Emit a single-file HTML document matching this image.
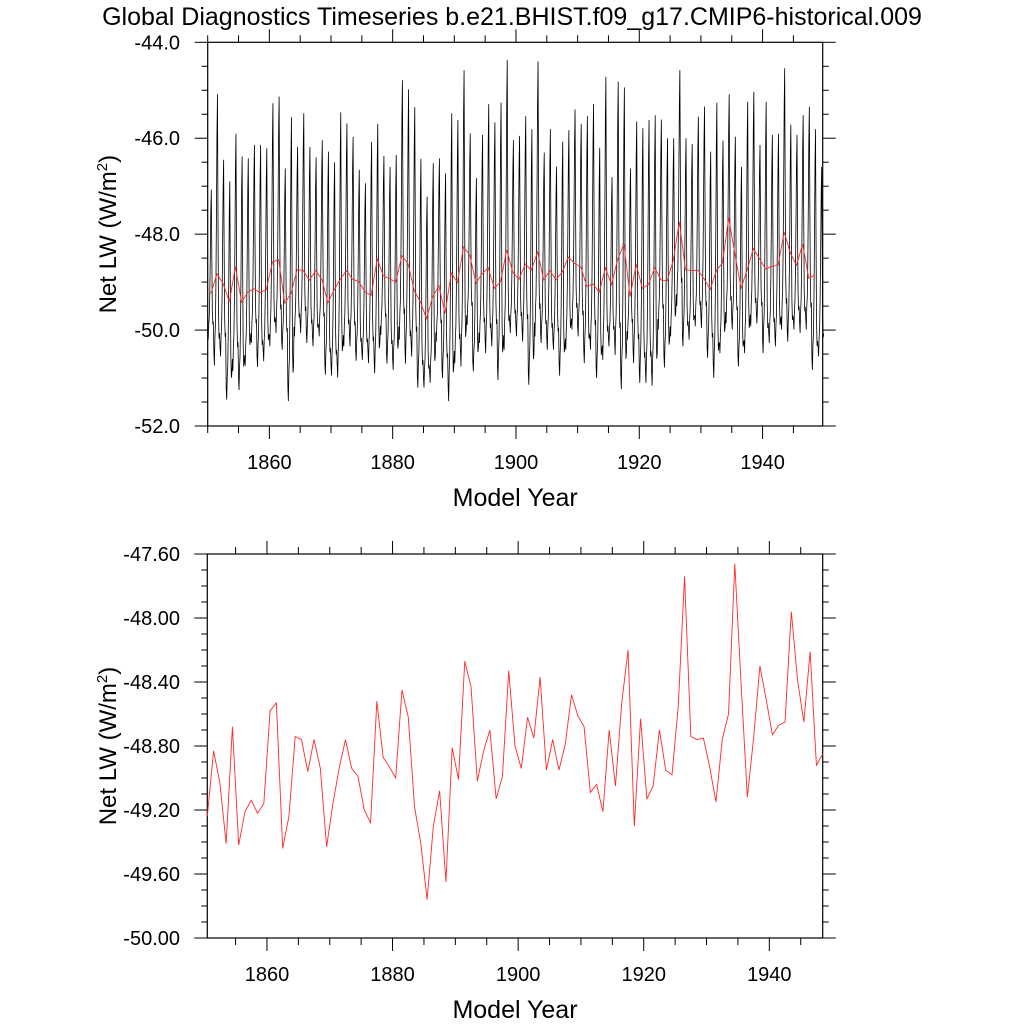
<!DOCTYPE html>
<html><head><meta charset="utf-8"><style>
html,body{margin:0;padding:0;background:#fff;}
svg{display:block;font-family:"Liberation Sans",Arial,sans-serif;}
</style></head><body>
<svg id="chart" width="1024" height="1024" viewBox="0 0 1024 1024" xmlns="http://www.w3.org/2000/svg">
<text x="512" y="25" font-size="25" text-anchor="middle">Global Diagnostics Timeseries b.e21.BHIST.f09_g17.CMIP6-historical.009</text>
<g id="topPanel"></g>
<g id="botPanel"></g>
</svg>
<script>
const years = Array.from({length:100},(_,i)=>1850+i);
const annualMean = [-49.24,-48.83,-49.03,-49.41,-48.68,-49.42,-49.21,-49.14,-49.22,-49.16,
-48.58,-48.53,-49.44,-49.24,-48.74,-48.76,-48.96,-48.76,-48.94,-49.43,
-49.16,-48.94,-48.76,-48.94,-48.99,-49.20,-49.28,-48.52,-48.87,-48.93,
-49.00,-48.45,-48.62,-49.18,-49.41,-49.76,-49.30,-49.08,-49.65,-48.81,
-49.01,-48.27,-48.43,-49.02,-48.83,-48.70,-49.13,-48.99,-48.33,-48.80,
-48.94,-48.62,-48.75,-48.37,-48.95,-48.76,-48.95,-48.79,-48.48,-48.61,
-48.68,-49.09,-49.04,-49.21,-48.70,-49.05,-48.53,-48.20,-49.30,-48.63,
-49.13,-49.05,-48.70,-48.95,-48.98,-48.55,-47.74,-48.74,-48.76,-48.75,
-48.93,-49.15,-48.76,-48.60,-47.66,-48.41,-49.12,-48.75,-48.30,-48.51,
-48.73,-48.67,-48.65,-47.96,-48.39,-48.65,-48.21,-48.92,-48.85];
const yearMax = [-47.07,-45.08,-46.45,-46.9,-45.91,-46.38,-46.42,-46.14,-46.14,-46.21,
-45.27,-45.13,-46.63,-45.56,-46.18,-45.48,-46.18,-46.4,-46.04,-46.28,
-46.5,-45.46,-45.69,-45.97,-46.66,-46.94,-46.08,-45.70,-46.37,-46.6,
-46.35,-44.79,-44.98,-45.35,-46.43,-47.22,-46.52,-46.42,-46.73,-45.48,
-45.62,-44.58,-45.90,-46.83,-45.93,-45.29,-45.67,-45.26,-44.37,-46.04,
-45.95,-45.54,-45.81,-44.40,-46.3,-45.81,-46.59,-46.07,-45.83,-45.40,
-45.70,-45.54,-45.29,-46.2,-44.72,-46.81,-44.82,-44.94,-46.63,-45.65,
-45.79,-45.62,-45.52,-45.61,-46.0,-46.00,-44.58,-46.00,-46.12,-45.55,
-45.34,-46.28,-45.26,-46.05,-45.08,-45.97,-46.60,-45.24,-45.03,-46.14,
-45.24,-45.93,-45.91,-44.54,-45.72,-45.93,-45.52,-45.34,-45.81,-46.60];
const yearMin = [-50.2,-50.74,-50.55,-51.45,-50.85,-51.25,-50.74,-50.27,-50.77,-50.65,
-50.34,-50.06,-50.41,-51.48,-50.13,-50.06,-50.27,-50.34,-50.13,-50.93,
-50.95,-50.99,-50.34,-50.34,-50.64,-50.62,-50.69,-50.90,-50.10,-50.70,
-50.83,-50.20,-50.70,-50.55,-51.2,-51.2,-51.1,-50.24,-51.0,-51.48,
-50.69,-50.76,-49.89,-50.86,-50.27,-50.48,-50.34,-51.04,-50.41,-50.06,
-50.13,-50.24,-51.14,-50.13,-50.27,-50.41,-50.41,-50.95,-50.41,-49.99,
-50.13,-50.69,-50.41,-51.0,-50.62,-50.34,-50.52,-51.23,-50.2,-50.69,
-51.1,-51.1,-51.16,-49.99,-50.78,-50.13,-49.5,-50.34,-50.2,-49.92,
-49.96,-50.58,-51.0,-50.48,-49.86,-49.99,-50.76,-50.48,-49.92,-49.86,
-50.48,-50.27,-50.34,-49.99,-50.24,-49.99,-50.06,-49.99,-50.83,-50.55];
const seasonShape = [0.05,0.0,0.1,0.15,0.3,0.55,0.85,1.0,0.55,0.2,0.1,0.12];
const topYTicks = [-52,-50,-48,-46,-44];
const botYTicks = [-50,-49.6,-49.2,-48.8,-48.4,-48.0,-47.6];
const xTicks = [1860,1880,1900,1920,1940];

const NS="http://www.w3.org/2000/svg";
function mk(parent,tag,attrs,text){const e=document.createElementNS(NS,tag);for(const k in attrs)e.setAttribute(k,attrs[k]);if(text!==undefined)e.textContent=text;parent.appendChild(e);return e;}

function drawPanel(g, cfg){
  const {L,R,T,B,x0,x1,y0,y1,yTicks,yMinorStep,yFmt,xLabelY} = cfg;
  const X = t => L + (t-x0)/(x1-x0)*(R-L);
  const Y = v => B - (v-y0)/(y1-y0)*(B-T);
  const frame = mk(g,'rect',{x:L,y:T,width:R-L,height:B-T,fill:'none',stroke:'#000','stroke-width':1.2});
  
  
  for(let yr=1850; yr<=1950; yr+=5){
    const x=X(yr); if(x<L-0.5||x>R+0.5) continue;
    const major = yr%20===0;
    const len = major?13:7;
    const tb = mk(g,'line',{x1:x,x2:x,y1:B,y2:B+len,stroke:'#000','stroke-width':1});
    
    
    const tt = mk(g,'line',{x1:x,x2:x,y1:T,y2:T-len,stroke:'#000','stroke-width':1});
    
    
  }
  xTicks.forEach(yr=>{
    const t = mk(g,'text',{x:X(yr),y:xLabelY,'font-size':20,'text-anchor':'middle'},String(yr));
    
    
  });
  const n = Math.round((y1-y0)/yMinorStep);
  for(let i=0;i<=n;i++){
    const v = y0+i*yMinorStep; const y=Y(v);
    const major = yTicks.some(tv=>Math.abs(tv-v)<1e-6);
    const len = major?13:6;
    const a = mk(g,'line',{x1:L,x2:L-len,y1:y,y2:y,stroke:'#000','stroke-width':1});
    
    
    const b = mk(g,'line',{x1:R,x2:R+len,y1:y,y2:y,stroke:'#000','stroke-width':1});
    
    
  }
  yTicks.forEach(v=>{
    const t = mk(g,'text',{x:180,y:Y(v)+7,'font-size':20,'text-anchor':'end'},yFmt(v));
    
    
  });
  const xt = mk(g,'text',{x:(L+R)/2,y:B+80,'font-size':25,'text-anchor':'middle'},'Model Year');
  
  
  const cy=(T+B)/2;
  const yt = mk(g,'text',{x:0,y:0,'font-size':24,'text-anchor':'middle',transform:`translate(116,${cy}) rotate(-90)`});
  
  
  yt.appendChild(document.createTextNode('Net LW (W/m'));
  mk(yt,'tspan',{'font-size':15,dy:-9},'2');
  mk(yt,'tspan',{'font-size':24,dy:9},')');
  return {X,Y};
}

const topPanel = document.getElementById('topPanel');
const s1 = drawPanel(topPanel,{L:207.7,R:822.7,T:42.3,B:426,x0:1850,x1:1949.75,y0:-52,y1:-44,yTicks:topYTicks,yMinorStep:0.5,yFmt:v=>v.toFixed(1),xLabelY:469});
const monthlyPts=[];
years.forEach((yr,i)=>{
  seasonShape.forEach((f,m)=>{
    const v = yearMin[i] + f*(yearMax[i]-yearMin[i]);
    monthlyPts.push(s1.X(yr+m/12).toFixed(2)+','+s1.Y(v).toFixed(2));
  });
});
const mline = mk(topPanel,'polyline',{points:monthlyPts.join(' '),fill:'none',stroke:'#000','stroke-width':0.8});


const aPts1 = annualMean.map((v,i)=>s1.X(years[i]+0.5).toFixed(2)+','+s1.Y(v).toFixed(2)).join(' ');
const aline1 = mk(topPanel,'polyline',{points:aPts1,fill:'none',stroke:'#ff2a2a','stroke-width':0.9});



const botPanel = document.getElementById('botPanel');
const s2 = drawPanel(botPanel,{L:207.3,R:822.7,T:554,B:938,x0:1850.5,x1:1948.5,y0:-50,y1:-47.6,yTicks:botYTicks,yMinorStep:0.1,yFmt:v=>v.toFixed(2),xLabelY:981});
const aPts2 = annualMean.map((v,i)=>s2.X(years[i]+0.5).toFixed(2)+','+s2.Y(v).toFixed(2)).join(' ');
const aline2 = mk(botPanel,'polyline',{points:aPts2,fill:'none',stroke:'#ff2a2a','stroke-width':0.9});


</script>
</body></html>
